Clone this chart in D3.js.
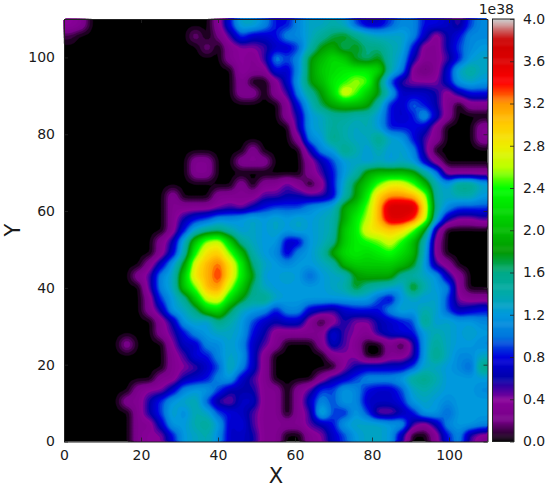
<!DOCTYPE html>
<html><head><meta charset="utf-8">
<script src="https://cdn.jsdelivr.net/npm/d3@7"></script>
<style>html,body{margin:0;padding:0;background:#fff}text{font-family:"DejaVu Sans",sans-serif;fill:#1a1a1a}</style>
</head><body><svg id="c" width="550" height="487"></svg>
<script>
// Values in units of 0.1e38, rows from y=110 (top) to y=0 (bottom)
const grid = [
[4,3,0,0,0,0,0,0,0,0,0,0,0,3,8,13,13,11,8,8,11,13,13,14,13,9,7,7,9,11,11,8,8,7,5,9,11],
[1,0,0,0,0,0,0,0,0,0,0,2,0,2,5,9,7,7,8,11,11,13,15,17,18,16,14,13,13,13,11,7,3,6,8,11,11],
[0,0,0,0,0,0,0,0,0,0,0,0,2,0,3,4,4,5,7,7,9,14,18,19,16,18,16,16,14,13,8,3,3,6,9,11,12],
[0,0,0,0,0,0,0,0,0,0,0,0,0,0,3,4,3,5,11,9,11,18,20,22,21,17,16,18,14,12,6,3,3,5,8,12,13],
[0,0,0,0,0,0,0,0,0,0,0,0,0,0,0,4,3,3,8,7,11,18,21,22,23,23,23,22,14,11,3,1,3,7,13,15,13],
[0,0,0,0,0,0,0,0,0,0,0,0,0,0,0,3,0,0,3,7,12,18,20,23,24,26,25,17,9,5,4,4,4,7,12,13,12],
[0,0,0,0,0,0,0,0,0,0,0,0,0,0,0,3,3,0,3,5,11,15,18,22,28,25,21,18,13,7,7,7,6,3,6,8,8],
[0,0,0,0,0,0,0,0,0,0,0,0,0,0,0,0,0,0,0,3,8,13,17,19,20,20,19,14,8,7,10,8,6,3,0,3,3],
[0,0,0,0,0,0,0,0,0,0,0,0,0,0,0,0,0,0,0,3,6,12,13,15,15,14,14,12,8,7,8,12,7,3,0,0,0],
[0,0,0,0,0,0,0,0,0,0,0,0,0,0,0,0,0,0,0,0,6,12,13,15,14,13,14,12,8,8,8,7,3,0,0,0,3],
[0,0,0,0,0,0,0,0,0,0,0,0,0,0,0,0,0,0,0,0,3,11,12,16,14,13,13,16,13,12,8,5,3,0,0,0,3],
[0,0,0,0,0,0,0,0,0,0,0,0,0,0,0,0,3,0,0,0,0,6,11,12,16,14,12,14,12,13,11,5,0,0,0,0,0],
[0,0,0,0,0,0,0,0,0,0,0,3,3,0,0,3,3,3,0,0,0,3,6,9,12,13,12,13,12,13,12,7,3,0,0,0,0],
[0,0,0,0,0,0,0,0,0,0,0,3,3,0,0,0,0,0,0,0,0,3,5,8,12,14,19,20,20,20,19,15,11,3,3,3,3],
[0,0,0,0,0,0,0,0,0,0,0,0,0,0,0,3,0,3,3,5,3,0,3,8,13,18,21,25,28,28,25,20,14,12,16,16,13],
[0,0,0,0,0,0,0,0,0,3,0,0,0,3,3,3,3,5,5,6,6,5,5,7,14,18,23,30,32,32,31,27,14,13,14,14,12],
[0,0,0,0,0,0,0,0,0,3,3,3,3,4,5,4,6,8,9,9,9,11,12,13,19,21,25,31,37,37,37,29,15,11,9,9,9],
[0,0,0,0,0,0,0,0,0,3,6,8,9,11,11,12,13,12,13,12,13,12,13,14,19,23,26,31,36,36,34,28,13,6,4,4,5],
[0,0,0,0,0,0,0,0,0,3,8,13,15,16,14,12,13,12,13,12,13,12,13,14,21,23,28,29,30,29,25,18,5,0,0,0,0],
[0,0,0,0,0,0,0,0,3,6,13,21,26,27,21,15,13,12,12,7,7,12,13,15,21,23,24,25,27,24,20,14,3,0,0,0,0],
[0,0,0,0,0,0,0,0,3,7,14,24,29,30,25,20,14,12,11,7,11,12,14,19,22,23,22,23,24,22,20,13,3,0,0,0,0],
[0,0,0,0,0,0,0,3,7,12,18,28,31,33,29,23,16,13,12,11,12,12,13,14,20,21,21,21,21,20,18,12,5,3,0,0,0],
[0,0,0,0,0,0,3,5,11,13,21,29,31,34,29,23,18,12,12,13,12,9,12,13,13,18,19,19,19,15,14,13,12,6,3,0,0],
[0,0,0,0,0,0,0,5,11,13,21,25,31,32,26,21,16,13,12,12,12,12,12,13,14,18,15,14,13,12,19,14,12,11,3,0,0],
[0,0,0,0,0,0,0,3,9,12,15,21,27,28,22,18,15,16,13,12,12,12,12,12,12,12,12,9,7,12,13,12,13,9,4,3,3],
[0,0,0,0,0,0,0,3,6,12,13,16,21,22,17,13,12,11,8,11,11,7,6,5,7,8,8,8,11,13,12,14,13,9,6,7,8],
[0,0,0,0,0,0,0,0,3,6,12,13,12,16,14,12,9,7,6,7,7,3,0,3,6,4,4,6,7,8,9,16,12,13,12,12,11],
[0,0,0,0,0,0,0,0,3,5,8,11,12,13,13,12,8,6,3,3,3,3,3,8,5,4,3,6,7,8,8,12,14,13,12,13,12],
[0,0,0,0,0,3,0,0,0,4,7,7,11,11,13,11,7,5,3,0,0,0,3,7,5,3,0,0,3,0,5,12,15,13,12,12,11],
[0,0,0,0,0,0,0,0,0,3,5,8,8,11,13,12,7,3,0,0,0,0,0,3,4,4,0,0,3,3,5,12,16,13,11,11,13],
[0,0,0,0,0,0,0,0,0,3,4,5,7,9,14,11,7,3,0,0,0,0,0,0,4,6,7,7,7,7,9,13,13,12,11,9,16],
[0,0,0,0,0,0,0,0,3,3,6,7,8,11,12,7,5,3,0,0,0,0,3,6,7,9,11,11,11,12,15,16,14,12,12,12,12],
[0,0,0,0,0,0,3,4,4,7,11,12,12,9,6,6,6,3,3,0,3,5,9,9,12,11,8,7,7,9,13,14,13,12,12,12,11],
[0,0,0,0,0,3,3,6,9,12,13,14,9,5,4,7,7,3,3,0,3,7,11,9,12,11,7,7,7,8,12,13,12,11,12,12,12],
[0,0,0,0,0,0,3,6,9,13,11,14,13,9,8,7,5,3,3,0,3,5,14,9,8,12,9,4,4,6,8,12,12,9,12,12,12],
[0,0,0,0,0,0,3,3,7,12,12,14,15,12,7,8,5,3,3,3,3,5,6,8,12,13,13,13,12,12,5,3,6,11,12,12,11],
[0,0,0,0,0,0,3,4,4,8,12,13,14,11,7,7,6,3,3,0,0,3,4,7,9,12,13,13,12,6,0,0,3,8,11,5,3]
];
const xTicks = [0,20,40,60,80,100];
const yTicks = [0,20,40,60,80,100];
const barTicks = [0,0.4,0.8,1.2,1.6,2.0,2.4,2.8,3.2,3.6,4.0];
const cmapStops = ["#000000","#770088","#880099","#0000aa","#0000dd","#0077dd","#0099dd","#00aaaa","#00aa88","#009900","#00bb00","#00dd00","#00ff00","#bbff00","#eeee00","#ffcc00","#ff9900","#ff0000","#dd0000","#cc0000","#cccccc"];

const svg = d3.select("#c");
const L=64,R=487.5,T=19,B=441.5;
const x = d3.scaleLinear().domain([0,110]).range([L,R]);
const y = d3.scaleLinear().domain([0,110]).range([B,T]);
const color = d3.scaleLinear().domain(cmapStops.map((_,i)=>i/20*4)).range(cmapStops).interpolate(d3.interpolateRgb).clamp(true);

// display smoothing of the read values, like the reference's image interpolation
const up = 4;
const n = grid[0].length*up, m = grid.length*up;
const fine = new Float64Array(n*m);
for(let j=0;j<m;j++)for(let i=0;i<n;i++)fine[j*n+i]=grid[Math.floor(j/up)][Math.floor(i/up)];
d3.blur2({data:fine,width:n,height:m},1);
const gx = d3.scaleLinear().domain([0,n]).range([0,110]);
const gy = d3.scaleLinear().domain([0,m]).range([110,0]);
const levels = d3.range(0.25,40,0.5);
const contours = d3.contours().size([n,m]).smooth(true).thresholds(levels)(Array.from(fine));
const path = d3.geoPath(d3.geoTransform({point(a,b){this.stream.point(x(gx(a)),y(gy(b)));}}));

svg.append("rect").attr("x",L).attr("y",T).attr("width",R-L).attr("height",B-T).attr("fill","#000");
svg.append("g").selectAll("path").data(contours).join("path")
  .attr("d",path).attr("fill",d=>color((d.value+0.25)/10)).attr("stroke",d=>color((d.value+0.25)/10)).attr("stroke-width",0.4);

function style(g){g.selectAll(".domain").attr("stroke","#222").attr("stroke-width",1);
 g.selectAll(".tick line").attr("stroke","#222").attr("stroke-width",0.8);
 g.selectAll("text").attr("font-size",14).attr("fill","#1a1a1a").attr("font-family",'"DejaVu Sans"');}
const fx=d3.format("d");
svg.append("g").attr("transform",`translate(0,${B})`).call(d3.axisBottom(x).tickValues(xTicks).tickFormat(fx).tickSizeInner(-4).tickSizeOuter(0).tickPadding(9)).call(style);
svg.append("g").attr("transform",`translate(${L},0)`).call(d3.axisLeft(y).tickValues(yTicks).tickFormat(fx).tickSizeInner(-4).tickSizeOuter(0).tickPadding(9)).call(style);
svg.append("g").attr("transform",`translate(0,${T})`).call(d3.axisTop(x).tickValues(xTicks).tickFormat("").tickSizeInner(-4).tickSizeOuter(0)).call(style);
svg.append("g").attr("transform",`translate(${R},0)`).call(d3.axisRight(y).tickValues(yTicks).tickFormat("").tickSizeInner(-4).tickSizeOuter(0)).call(style);

svg.append("text").attr("x",276).attr("y",483).attr("text-anchor","middle").attr("font-size",21).text("X");
svg.append("text").attr("transform","translate(20,230) rotate(-90)").attr("text-anchor","middle").attr("font-size",21).text("Y");

// colorbar
const cbL=492.5,cbR=514;
const cy=d3.scaleLinear().domain([0,4]).range([B,T]);
svg.append("g").selectAll("rect").data(d3.range(0,4,0.01)).join("rect")
 .attr("x",cbL).attr("width",cbR-cbL).attr("y",d=>cy(d+0.01)).attr("height",d=>cy(d)-cy(d+0.01)+0.5).attr("fill",d=>color(d+0.005));
svg.append("rect").attr("x",cbL).attr("y",T).attr("width",cbR-cbL).attr("height",B-T).attr("fill","none").attr("stroke","#222").attr("stroke-width",1);
const cbAxis=svg.append("g").attr("transform",`translate(${cbR},0)`).call(d3.axisRight(cy).tickValues(barTicks).tickFormat(d3.format(".1f")).tickSizeInner(-4).tickSizeOuter(0).tickPadding(9)).call(style);
cbAxis.select(".domain").remove();
svg.append("text").attr("x",514).attr("y",14).attr("text-anchor","end").attr("font-size",14).text("1e38");
</script></body></html>
